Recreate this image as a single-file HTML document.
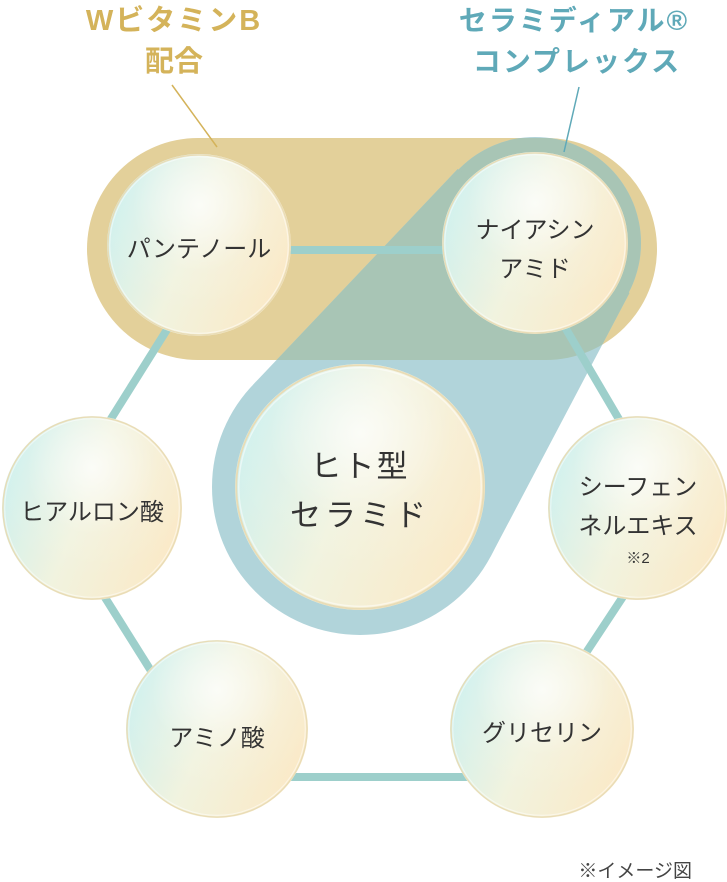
<!DOCTYPE html>
<html><head><meta charset="utf-8">
<style>
html,body{margin:0;padding:0;background:#fff;}
svg{display:block;}
text{font-family:"Liberation Sans","Noto Sans CJK JP",sans-serif;}
</style></head>
<body>
<svg width="727" height="882" viewBox="0 0 727 882" xmlns="http://www.w3.org/2000/svg">
<defs>
  <linearGradient id="bg" x1="0" y1="0.3" x2="1" y2="0.7">
    <stop offset="0" stop-color="#cdf0ee"/>
    <stop offset="0.45" stop-color="#f1f3df"/>
    <stop offset="1" stop-color="#fbe9c6"/>
  </linearGradient>
  <radialGradient id="hl" cx="0.5" cy="0.28" r="0.6">
    <stop offset="0" stop-color="#ffffff" stop-opacity="0.75"/>
    <stop offset="0.6" stop-color="#ffffff" stop-opacity="0.1"/>
    <stop offset="1" stop-color="#ffffff" stop-opacity="0"/>
  </radialGradient>
  <clipPath id="pill"><rect x="87" y="138" width="570" height="222" rx="111"/></clipPath>
  <g id="teal">
    <circle cx="535" cy="243" r="106"/>
    <circle cx="360" cy="487" r="148"/>
    <polygon points="457.7,169 253.1,384.7 490.7,556.4 629.5,293"/>
  </g>
  <g id="bub">
    <circle r="1" fill="url(#bg)"/>
    <circle r="1" fill="url(#hl)"/>
    <circle r="0.99" fill="none" stroke="#e9dcb6" stroke-width="0.015"/>
    <circle r="0.97" fill="none" stroke="#ffffff" stroke-opacity="0.5" stroke-width="0.012"/>
  </g>
</defs>

<rect x="87" y="138" width="570" height="222" rx="111" fill="#e3d09a"/>
<use href="#teal" fill="#b1d4da"/>
<g clip-path="url(#pill)"><use href="#teal" fill="#a8c5b5"/></g>

<g stroke="#9dcfcb" stroke-width="8" fill="none">
  <line x1="200" y1="250" x2="535" y2="250"/>
  <line x1="549" y1="300" x2="637" y2="450"/>
  <line x1="634" y1="580" x2="568" y2="680"/>
  <line x1="280" y1="777" x2="480" y2="777"/>
  <line x1="94" y1="580" x2="163" y2="690"/>
  <line x1="173" y1="320" x2="104" y2="430"/>
</g>

<line x1="172" y1="85" x2="217" y2="147" stroke="#d4b35a" stroke-width="1.5"/>
<line x1="579" y1="87" x2="564" y2="152" stroke="#5fa9b8" stroke-width="1.5"/>

<use href="#bub" transform="translate(199,245) scale(92,91)"/>
<use href="#bub" transform="translate(535,243) scale(93,91)"/>
<use href="#bub" transform="translate(360,487) scale(125,123)"/>
<use href="#bub" transform="translate(92,508) scale(90,92)"/>
<use href="#bub" transform="translate(638,508) scale(90,92)"/>
<use href="#bub" transform="translate(217,729) scale(91,89)"/>
<use href="#bub" transform="translate(542,729) scale(92,89)"/>

<g fill="#333" font-size="24" text-anchor="middle">
  <text x="199" y="257">パンテノール</text>
  <text x="535" y="238">ナイアシン</text>
  <text x="535" y="277">アミド</text>
  <text x="92" y="520">ヒアルロン酸</text>
  <text x="638" y="495">シーフェン</text>
  <text x="638" y="534">ネルエキス</text>
  <text x="638" y="563" font-size="15">※2</text>
  <text x="217" y="746">アミノ酸</text>
  <text x="542" y="741">グリセリン</text>
  <text x="360" y="477" font-size="31" letter-spacing="2">ヒト型</text>
  <text x="360" y="526" font-size="31" letter-spacing="4">セラミド</text>
</g>

<g font-weight="bold" text-anchor="middle">
  <text x="174" y="30" font-size="29" fill="#d4b35a" letter-spacing="2">WビタミンB</text>
  <text x="174" y="71" font-size="29" fill="#d4b35a">配合</text>
  <text x="574" y="30" font-size="28" fill="#5fa9b8" letter-spacing="2">セラミディアル®</text>
  <text x="577" y="71" font-size="28" fill="#5fa9b8" letter-spacing="2">コンプレックス</text>
</g>

<text x="692" y="877" font-size="19" fill="#444" text-anchor="end">※イメージ図</text>
</svg>
</body></html>
